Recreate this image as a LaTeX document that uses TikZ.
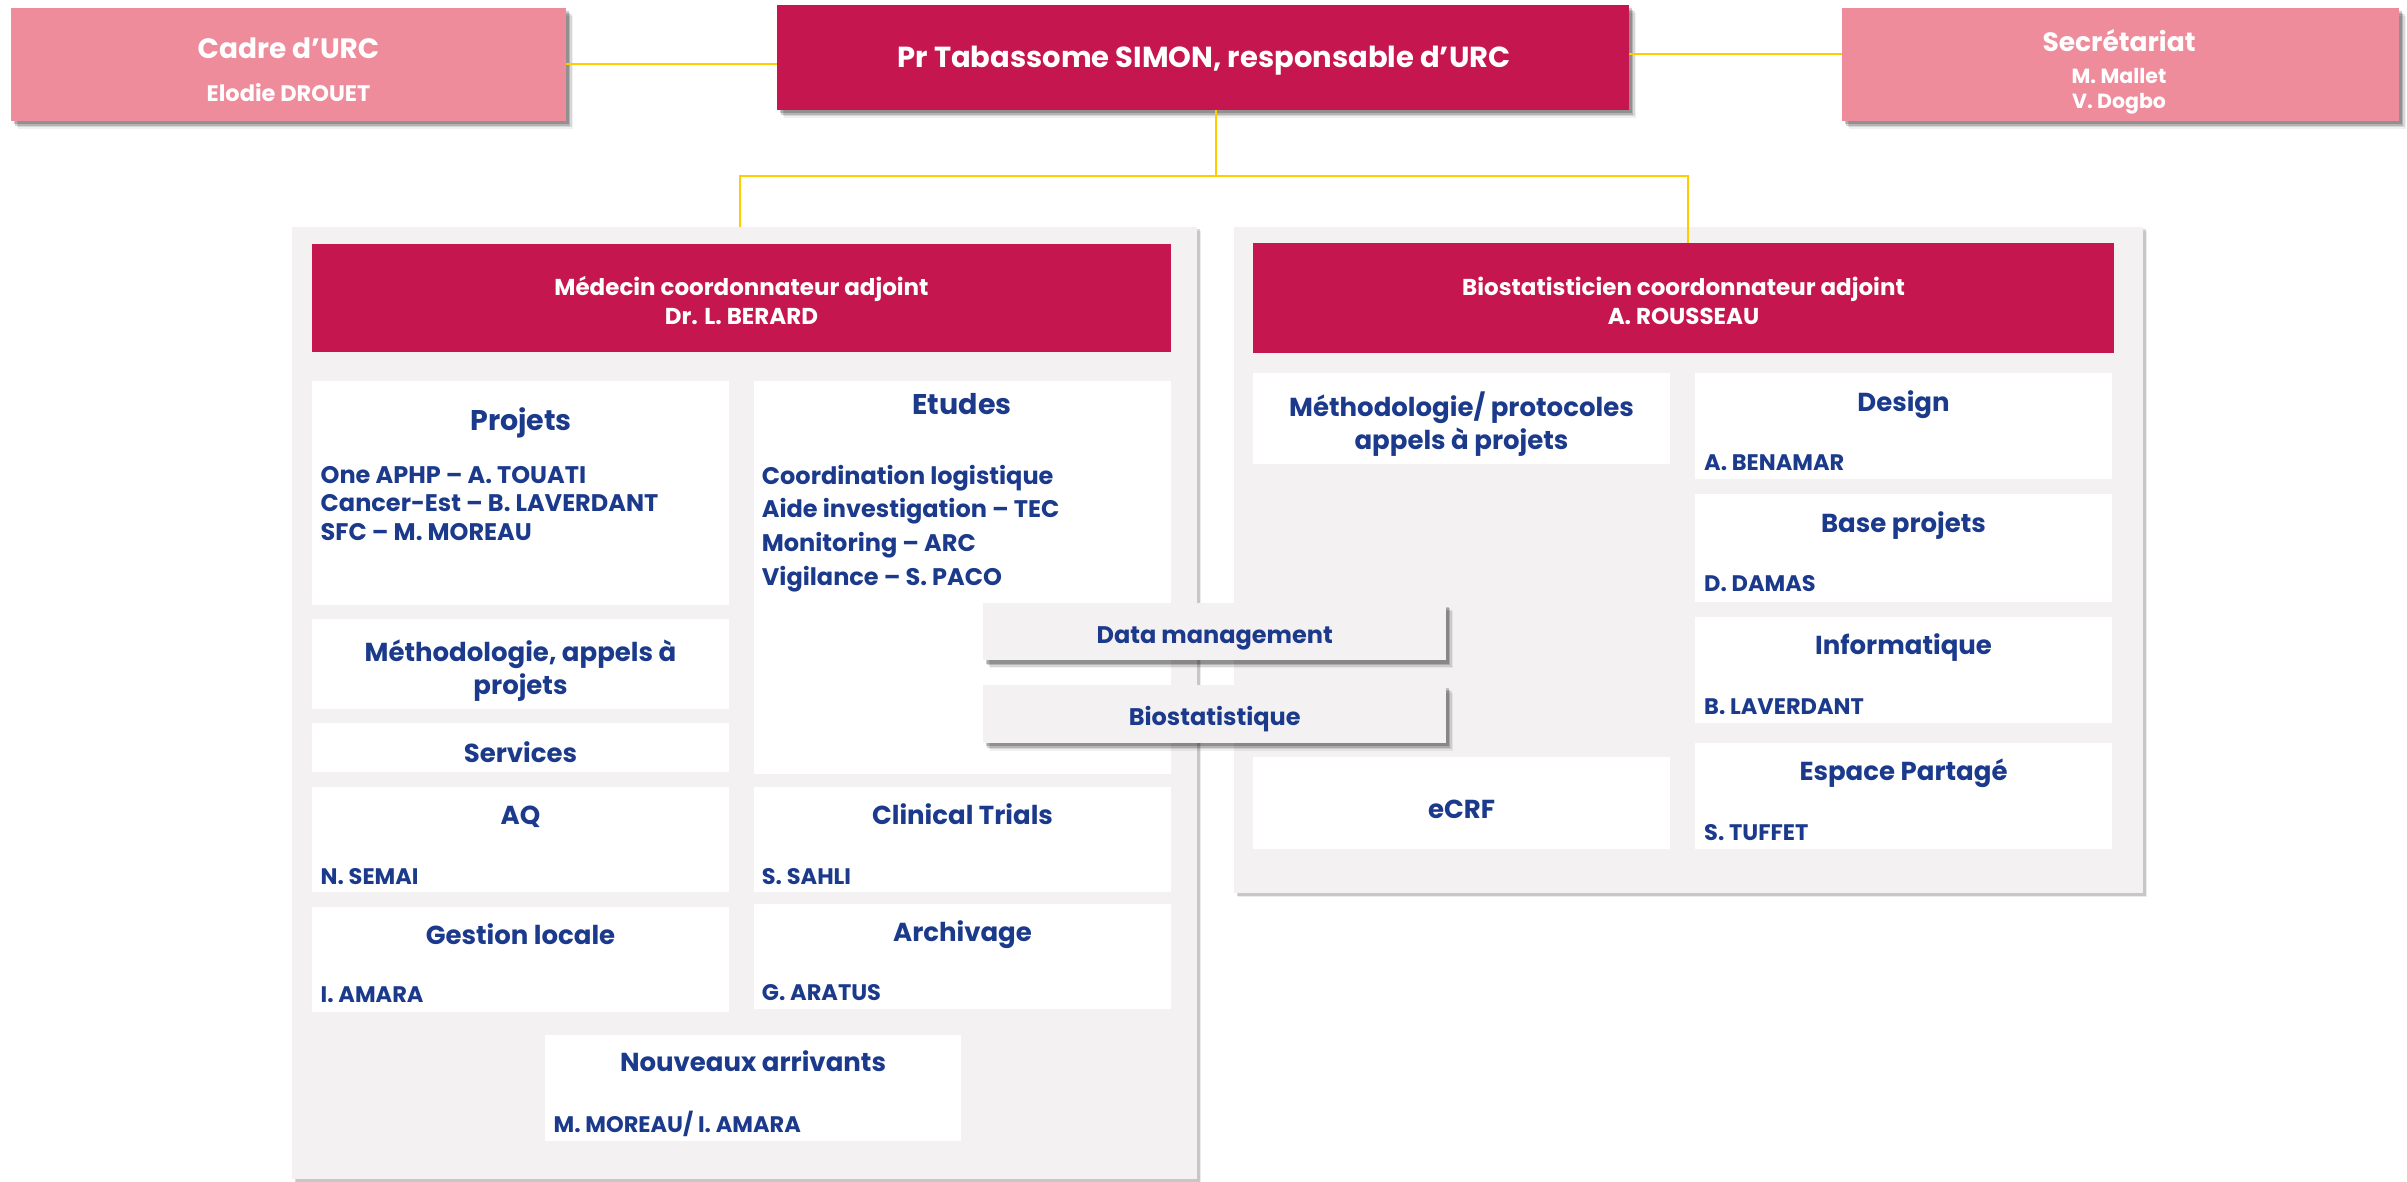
\documentclass[tikz,border=0pt]{standalone}
\usepackage{fontspec}
\setmainfont{Poppins}
\usetikzlibrary{shadows}
\definecolor{mag}{HTML}{C51650}
\definecolor{pinkbox}{HTML}{EE8C9C}
\definecolor{panel}{HTML}{F3F1F2}
\definecolor{navy}{HTML}{1B3A8C}
\definecolor{gold}{HTML}{FFCC00}
\tikzset{
  box/.style={rectangle, inner sep=0pt, outer sep=0pt, anchor=north west},
  shad/.style={
    drop shadow={shadow xshift=7pt, shadow yshift=-8pt, fill=black, opacity=0.06},
    drop shadow={shadow xshift=5.5pt, shadow yshift=-6.5pt, fill=black, opacity=0.10},
    drop shadow={shadow xshift=4pt, shadow yshift=-5pt, fill=black, opacity=0.16},
    drop shadow={shadow xshift=2.5pt, shadow yshift=-3.5pt, fill=black, opacity=0.2}},
  lightshad/.style={
    drop shadow={shadow xshift=4pt, shadow yshift=-4pt, fill=black, opacity=0.08},
    drop shadow={shadow xshift=2.5pt, shadow yshift=-2.5pt, fill=black, opacity=0.15}},
  pinkb/.style={box, fill=pinkbox, shad},
  magb/.style={box, fill=mag},
  panelb/.style={box, fill=panel, lightshad},
  whiteb/.style={box, fill=white},
  greyb/.style={box, fill=panel, shad},
  conn/.style={draw=gold, line width=2pt},
  wtxt/.style={text=white, font=\bfseries, inner sep=0pt, anchor=base},
  ttl/.style={text=navy, font=\bfseries\fontsize{26}{30}\selectfont, inner sep=0pt, anchor=base},
  bigttl/.style={ttl, font=\bfseries\fontsize{28.5}{32}\selectfont},
  itm/.style={text=navy, font=\bfseries\fontsize{24}{28}\selectfont, inner sep=0pt, anchor=base west},
  nam/.style={text=navy, font=\bfseries\fontsize{22.5}{26}\selectfont, inner sep=0pt, anchor=base west},
  hdr/.style={wtxt, font=\bfseries\fontsize{23}{27}\selectfont},
}
\begin{document}
\begin{tikzpicture}[x=1pt,y=-1pt]
\useasboundingbox[fill=white] (0,0) rectangle (2407,1182);
% top row
\node[pinkb, minimum width=555, minimum height=113] (cadre) at (11,8) {};
\node[magb, shad, minimum width=852, minimum height=105] (pr) at (777,5) {};
\node[pinkb, minimum width=557, minimum height=113] (secr) at (1842,8) {};
\node[wtxt, font=\bfseries\fontsize{28}{32}\selectfont] (cadre-t) at (288.5,58.3) {Cadre d’URC};
\node[wtxt, font=\bfseries\fontsize{22.5}{26}\selectfont] (cadre-n) at (288.5,101.7) {Elodie DROUET};
\node[wtxt, font=\bfseries\fontsize{29}{33}\selectfont] (pr-t) at (1204,67.7) {Pr Tabassome SIMON, responsable d’URC};
\node[wtxt, font=\bfseries\fontsize{26.5}{30}\selectfont] (secr-t) at (2119,51.3) {Secrétariat};
\node[wtxt, font=\bfseries\fontsize{20.5}{24}\selectfont] (secr-n1) at (2119,83.3) {M. Mallet};
\node[wtxt, font=\bfseries\fontsize{20.5}{24}\selectfont] (secr-n2) at (2119,108.3) {V. Dogbo};
% panels
\node[panelb, minimum width=905, minimum height=952] (lpanel) at (292,227) {};
\node[panelb, minimum width=909, minimum height=666] (rpanel) at (1234,227) {};
\node[magb, minimum width=859, minimum height=108] (lhdr) at (312,244) {};
\node[magb, minimum width=861, minimum height=110] (rhdr) at (1253,243) {};
\node[hdr] (lhdr-t1) at (741.5,296) {Médecin coordonnateur adjoint};
\node[hdr] (lhdr-t2) at (741.5,324.3) {Dr. L. BERARD};
\node[hdr] (rhdr-t1) at (1683.5,296) {Biostatisticien coordonnateur adjoint};
\node[hdr] (rhdr-t2) at (1683.5,324.3) {A. ROUSSEAU};
% connectors
\coordinate (j) at (1216,176);
\draw[conn, line width=2.5pt] (cadre.east |- 0,64) -- (pr.west |- 0,64);
\draw[conn, line width=2.5pt] (pr.east |- 0,54) -- (secr.west |- 0,54);
\draw[conn] (pr.south -| j) -- (j);
\draw[conn] (lpanel.north -| 740,0) -- (740,176) -- (1688,176) -- (rhdr.north -| 1688,0);
% left panel boxes
\node[whiteb, minimum width=417, minimum height=224] (projets) at (312,381) {};
\node[whiteb, minimum width=417, minimum height=90] (methl) at (312,619) {};
\node[whiteb, minimum width=417, minimum height=49] (services) at (312,723) {};
\node[whiteb, minimum width=417, minimum height=105] (aq) at (312,787) {};
\node[whiteb, minimum width=417, minimum height=105] (gestion) at (312,907) {};
\node[whiteb, minimum width=417, minimum height=393] (etudes) at (754,381) {};
\node[whiteb, minimum width=417, minimum height=105] (clinical) at (754,787) {};
\node[whiteb, minimum width=417, minimum height=105] (archiv) at (754,904) {};
\node[whiteb, minimum width=416, minimum height=106] (nouveaux) at (545,1035) {};
\node[bigttl] (projets-t) at (521,430.7) {Projets};
\node[itm] (projets-i1) at (320.5,483.3) {One APHP – A. TOUATI};
\node[itm] (projets-i2) at (320.5,511) {Cancer-Est – B. LAVERDANT};
\node[itm] (projets-i3) at (320.5,540) {SFC – M. MOREAU};
\node[ttl] (methl-t1) at (520.5,661) {Méthodologie, appels à};
\node[ttl] (methl-t2) at (520.5,694) {projets};
\node[ttl] (services-t) at (520.5,762) {Services};
\node[ttl] (aq-t) at (520.5,824.3) {AQ};
\node[nam] (aq-n) at (320.5,884.3) {N. SEMAI};
\node[ttl] (gestion-t) at (520.5,944) {Gestion locale};
\node[nam] (gestion-n) at (320.5,1002.7) {I. AMARA};
\node[bigttl] (etudes-t) at (962,414.3) {Etudes};
\node[itm] (etudes-i1) at (761.7,484) {Coordination logistique};
\node[itm] (etudes-i2) at (761.7,517.7) {Aide investigation – TEC};
\node[itm] (etudes-i3) at (761.7,551.7) {Monitoring – ARC};
\node[itm] (etudes-i4) at (761.7,585) {Vigilance – S. PACO};
\node[ttl] (clinical-t) at (962.5,824.3) {Clinical Trials};
\node[nam] (clinical-n) at (761.7,884.3) {S. SAHLI};
\node[ttl] (archiv-t) at (962.5,941.5) {Archivage};
\node[nam] (archiv-n) at (761.7,1000.5) {G. ARATUS};
\node[ttl] (nouveaux-t) at (753,1071) {Nouveaux arrivants};
\node[nam] (nouveaux-n) at (553.5,1132) {M. MOREAU/ I. AMARA};
% right panel boxes
\node[whiteb, minimum width=417, minimum height=91] (methr) at (1253,373) {};
\node[whiteb, minimum width=417, minimum height=92] (ecrf) at (1253,757) {};
\node[whiteb, minimum width=417, minimum height=106] (design) at (1695,373) {};
\node[whiteb, minimum width=417, minimum height=108] (base) at (1695,494) {};
\node[whiteb, minimum width=417, minimum height=106] (info) at (1695,617) {};
\node[whiteb, minimum width=417, minimum height=106] (espace) at (1695,743) {};
\node[ttl] (methr-t1) at (1461.5,416) {Méthodologie/ protocoles};
\node[ttl] (methr-t2) at (1461.5,449) {appels à projets};
\node[ttl] (ecrf-t) at (1461.5,818.5) {eCRF};
\node[ttl] (design-t) at (1903.5,411) {Design};
\node[nam] (design-n) at (1704,470) {A. BENAMAR};
\node[ttl] (base-t) at (1903.5,532) {Base projets};
\node[nam] (base-n) at (1704,591) {D. DAMAS};
\node[ttl] (info-t) at (1903.5,654) {Informatique};
\node[nam] (info-n) at (1704,714) {B. LAVERDANT};
\node[ttl] (espace-t) at (1903.5,780) {Espace Partagé};
\node[nam] (espace-n) at (1704,840) {S. TUFFET};
% overlapping boxes
\node[greyb, minimum width=463, minimum height=57] (dm) at (983,603) {};
\node[greyb, minimum width=463, minimum height=58] (bs) at (983,684.5) {};
\node[ttl, font=\bfseries\fontsize{24}{28}\selectfont] (dm-t) at (1214.7,643.3) {Data management};
\node[ttl, font=\bfseries\fontsize{24}{28}\selectfont] (bs-t) at (1214.7,725) {Biostatistique};
\end{tikzpicture}
\end{document}
